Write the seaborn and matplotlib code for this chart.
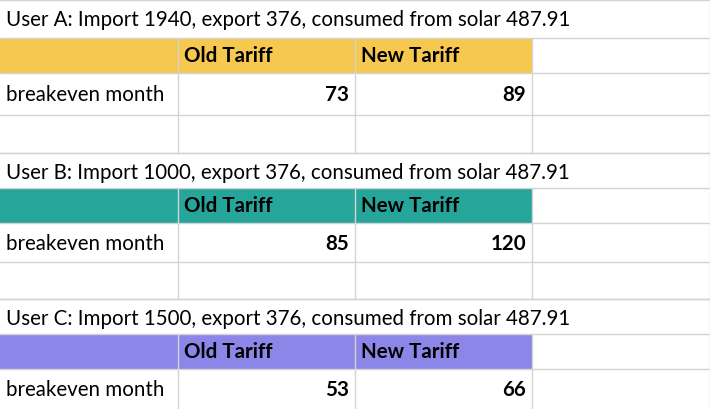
import matplotlib
matplotlib.use("Agg")
import matplotlib.pyplot as plt
import seaborn as sns

users = ["User A", "User B", "User C"]
imports = [1940, 1000, 1500]
exports = [376, 376, 376]
solar = [487.91, 487.91, 487.91]
old_tariff = [73, 85, 53]
new_tariff = [89, 120, 66]
header_colors = ["#F6C94E", "#26A69A", "#8B86E8"]

sns.set_theme(style="white")
W, H = 710, 409
fig = plt.figure(figsize=(7.1, 4.09), dpi=100)
ax = fig.add_axes([0, 0, 1, 1])
ax.set_xlim(0, W); ax.set_ylim(H, 0); ax.axis("off")
FONT = "Lato"; FS = 14.8; C = "black"
cols = [0, 178, 355, 532, 710]
grid = "#d4d4d4"
rows = [[0, 38, 73, 115, 153], [153, 188, 223, 262, 299], [299, 334, 369, 409, 409]]
for i in range(3):
    r = rows[i]; t = r[0]
    ax.text(6, t + 20, f"{users[i]}: Import {imports[i]}, export {exports[i]}, consumed from solar {solar[i]:g}",
            fontsize=FS, family=FONT, va="center", ha="left", color=C)
    ax.fill_between([0, 532], r[1], r[2], color=header_colors[i], lw=0)
    ax.text(cols[1] + 6, (r[1] + r[2]) / 2 + 1, "Old Tariff", fontsize=FS, family=FONT, weight="bold", va="center", color=C)
    ax.text(cols[2] + 6, (r[1] + r[2]) / 2 + 1, "New Tariff", fontsize=FS, family=FONT, weight="bold", va="center", color=C)
    ym = (r[2] + r[3]) / 2 + 1
    ax.text(6, ym, "breakeven month", fontsize=FS, family=FONT, va="center", color=C)
    ax.text(cols[2] - 6, ym, str(old_tariff[i]), fontsize=FS, family=FONT, weight="bold", va="center", ha="right", color=C)
    ax.text(cols[3] - 6, ym, str(new_tariff[i]), fontsize=FS, family=FONT, weight="bold", va="center", ha="right", color=C)
    for y in r:
        if y < H:
            ax.plot([0, W], [y, y], color=grid, lw=1)
    for x in cols[1:4]:
        ax.plot([x, x], [r[1], r[4]], color=grid, lw=1)
    ax.plot([709.5, 709.5], [t, r[4]], color=grid, lw=1)
fig.savefig("out.png", dpi=100)
